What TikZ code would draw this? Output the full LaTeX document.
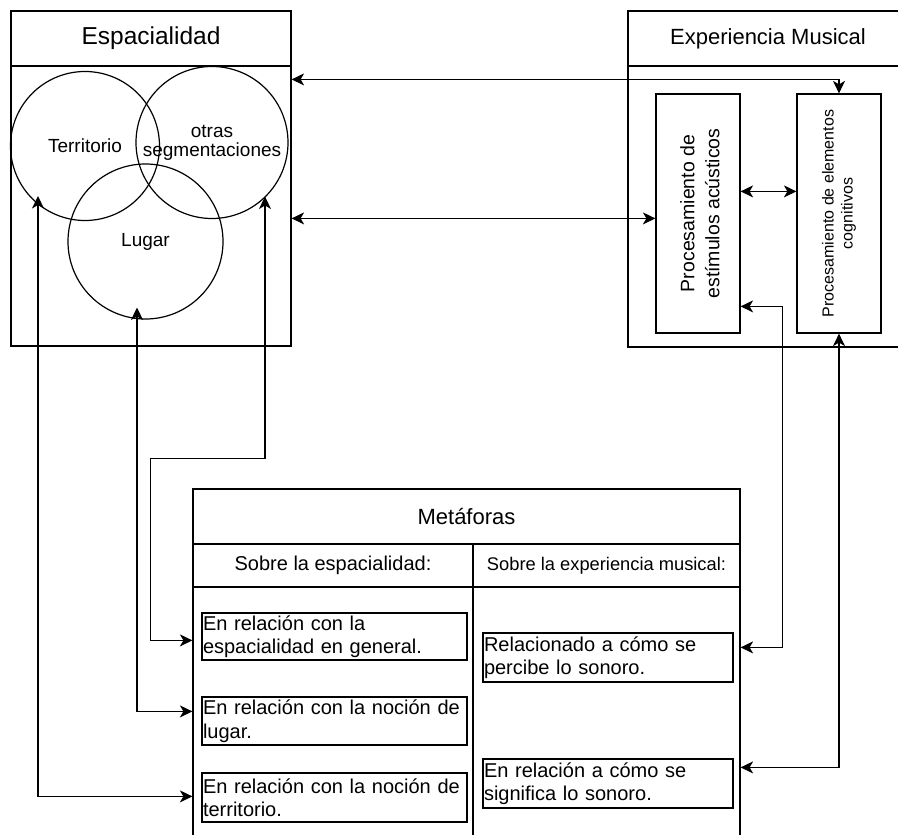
\documentclass[tikz,border=0pt]{standalone}
\usepackage{fontspec}
\setmainfont{Liberation Sans}
\usetikzlibrary{arrows.meta,calc}
\tikzset{
  ln/.style={line width=1.2pt},
  box/.style={draw, ln, rectangle, inner sep=0pt},
  circ/.style={draw, ln, circle, inner sep=0pt, align=center, font=\fontsize{19}{19}\selectfont},
  conn/.style={ln, {Stealth[length=12.5pt,width=12pt,inset=3.5pt]}-{Stealth[length=12.5pt,width=12pt,inset=3.5pt]}},
  cell/.style={draw, ln, rectangle, inner xsep=1pt, inner ysep=0pt, align=left, font=\fontsize{20}{23.5}\selectfont},
}
\begin{document}
\begin{tikzpicture}[x=1pt,y=-1pt]
\useasboundingbox (0,0) rectangle (898,835);
\clip (0,0) rectangle (898,835);

% Espacialidad
\node[box, minimum width=280pt, minimum height=55pt, font=\fontsize{24.5}{26}\selectfont] (esptitle) at (151,38.5) {Espacialidad};
\node[box, minimum width=280pt, minimum height=280pt] (esp) at (151,206) {};
\node[circ, minimum size=149pt] (terr) at (85,146) {Territorio};
\node[circ, minimum size=152pt] (otras) at (212,142.5) {otras\\segmentaciones};
\node[circ, minimum size=155pt] (lugar) at (145.5,241.5) {Lugar};

% Experiencia Musical
\node[box, minimum width=280pt, minimum height=55pt, font=\fontsize{22}{24}\selectfont] (exptitle) at (768,38.5) {Experiencia Musical};
\node[box, minimum width=280pt, minimum height=281pt] (exp) at (768,206.5) {};
\node[box, minimum width=84pt, minimum height=239pt] (ac) at (698,213.5) {};
\node[rotate=90, align=center, font=\fontsize{19.5}{25}\selectfont] (actext) at (700,213.5) {Procesamiento de\\estímulos acústicos};
\node[box, minimum width=84pt, minimum height=239pt] (cog) at (839,213.5) {};
\node[rotate=90, align=center, font=\fontsize{16}{19}\selectfont] (cogtext) at (cog) {Procesamiento de elementos\\cognitivos};

% Metaforas table
\node[box, minimum width=547pt, minimum height=55pt, font=\fontsize{22}{24}\selectfont] (mtitle) at (466.5,516.5) {Metáforas};
\node[box, minimum width=280pt, minimum height=43pt, font=\fontsize{20}{22}\selectfont] (h1) at (333,565.5) {Sobre la espacialidad:};
\node[box, minimum width=267pt, minimum height=43pt, font=\fontsize{18.3}{20}\selectfont] (h2) at (606.5,565.5) {Sobre la experiencia musical:};
\node[box, minimum width=280pt, minimum height=283pt] (b1) at (333,728.5) {};
\node[box, minimum width=267pt, minimum height=283pt] (b2) at (606.5,728.5) {};

\node[cell, minimum width=265pt, minimum height=47pt, text width=263pt] (m1) at (334.5,636.5) {En relación con la\\espacialidad en general.};
\node[cell, minimum width=265pt, minimum height=48pt, text width=263pt] (m2) at (334.5,721) {En relación con la noción de\\lugar.};
\node[cell, minimum width=265pt, minimum height=49pt, text width=263pt] (m3) at (334.5,797.5) {En relación con la noción de\\territorio.};
\node[cell, minimum width=250pt, minimum height=49pt, text width=248pt] (r1) at (608,657.5) {Relacionado a cómo se\\percibe lo sonoro.};
\node[cell, minimum width=250pt, minimum height=49pt, text width=248pt] (r2) at (608,783.5) {En relación a cómo se\\significa lo sonoro.};

% connectors
\draw[conn] ($(esp.north east)+(0,14)$) -| (cog.north);
\draw[conn] ($(esp.north east)+(0,153)$) -- ($(ac.north west)+(0,125)$);
\draw[conn] ($(ac.north east)+(0,98)$) -- ($(cog.north west)+(0,98)$);
\draw[conn] ($(ac.north east)+(0,213)$) -- ++(42,0) |- ($(b2.north east)+(0,61)$);
\draw[conn] (cog.south) |- ($(b2.north east)+(0,181)$);

\draw[conn] ($(terr.center)+(-47,50)$) |- ($(b1.north west)+(0,210)$);
\draw[conn] ($(lugar.center)+(-8.5,66)$) |- ($(b1.north west)+(0,125)$);
\draw[conn] ($(otras.center)+(53,54)$) |- ($(b1.north west)+(-42,-128)$) |- ($(b1.north west)+(0,54)$);
\end{tikzpicture}
\end{document}
